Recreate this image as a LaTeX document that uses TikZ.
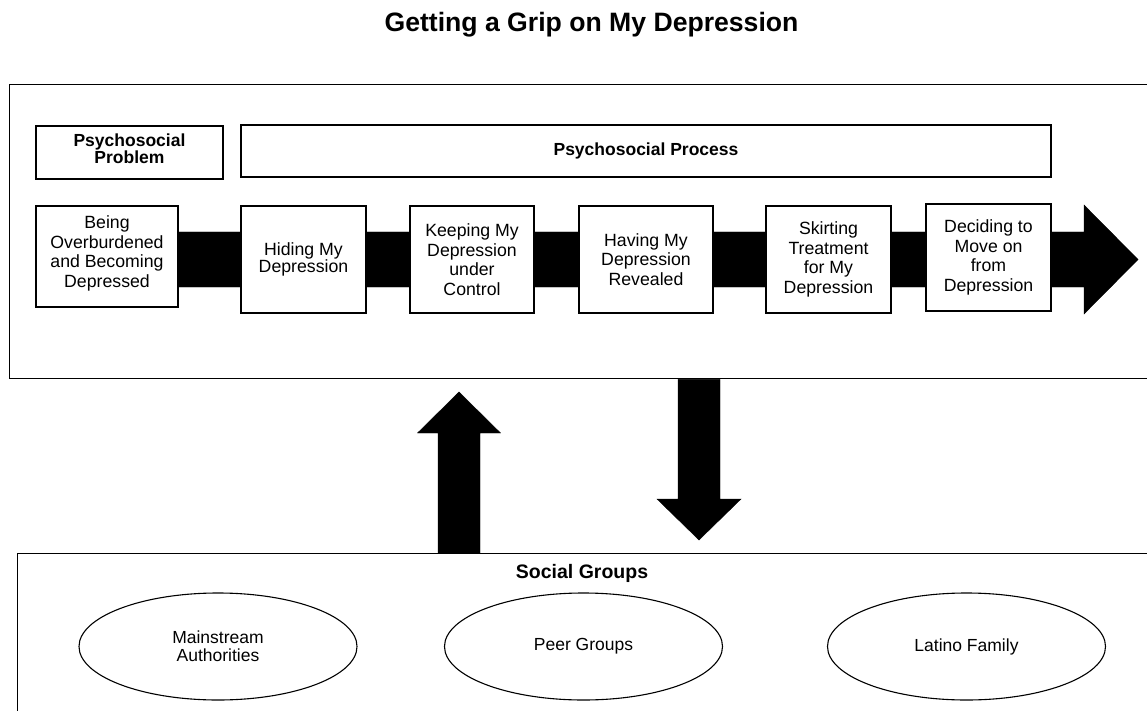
\documentclass[tikz,border=0pt]{standalone}
\usepackage{fontspec}
\setmainfont{Liberation Sans}
\usetikzlibrary{shapes.geometric,calc}
\begin{document}
\begin{tikzpicture}[x=1pt,y=-1pt,
  frame/.style={draw,line width=1.3pt,inner sep=0pt,anchor=north west},
  stagebox/.style={draw,line width=1.2pt,fill=white,inner sep=0pt,align=center,
    font=\fontsize{17.7}{19.6}\selectfont},
  headbox/.style={draw,line width=1.2pt,fill=white,inner sep=0pt,align=center,
    font=\bfseries\fontsize{17.5}{17.4}\selectfont},
  groupell/.style={draw,ellipse,line width=1.1pt,inner sep=0pt,align=center,
    minimum width=278pt,minimum height=107pt,
    font=\fontsize{17.5}{17.7}\selectfont},
  blockarrow/.style={fill=black,draw=black,line width=0.4pt}]
\useasboundingbox (0,0) rectangle (1147,711);
\clip (0,0) rectangle (1147,711);

% title
\node[anchor=base,font=\bfseries\fontsize{26.6}{30}\selectfont] (title) at (591.5,32) {Getting a Grip on My Depression};

% outer frames
\node[frame,minimum width=1160pt,minimum height=294pt] (upper) at (9,84) {};
\node[frame,minimum width=1160pt,minimum height=200pt] (lower) at (17,553) {};

% header boxes
\node[headbox,minimum width=187pt,minimum height=53pt,text depth=8pt] (problem) at (129.5,152.5) {Psychosocial\\Problem};
\node[headbox,minimum width=810pt,minimum height=52pt] (process) at (646,151) {Psychosocial Process};

% process block arrow
\coordinate (flowS) at (107,259.5);
\coordinate (flowT) at (1138,259.5);
\fill[blockarrow] ($(flowS)+(0,-27.5)$) -- ($(flowT)+(-54,-27.5)$) -- ($(flowT)+(-54,-54.5)$)
  -- (flowT) -- ($(flowT)+(-54,54.5)$) -- ($(flowT)+(-54,27.5)$) -- ($(flowS)+(0,27.5)$) -- cycle;

% stage boxes
\node[stagebox,minimum width=142pt,minimum height=101pt,text depth=10pt] (being) at (107,256.5) {Being\\Overburdened\\and Becoming\\Depressed};
\node[stagebox,minimum width=125pt,minimum height=107pt,font=\fontsize{17.7}{16.8}\selectfont] (hiding) at (303.5,259.5) {Hiding My\\Depression};
\node[stagebox,minimum width=124pt,minimum height=107pt] (keeping) at (472,259.5) {Keeping My\\Depression\\under\\Control};
\node[stagebox,minimum width=134pt,minimum height=107pt] (having) at (646,259.5) {Having My\\Depression\\Revealed};
\node[stagebox,minimum width=125pt,minimum height=107pt] (skirting) at (828.5,259.5) {Skirting\\Treatment\\for My\\Depression};
\node[stagebox,minimum width=125pt,minimum height=107pt] (deciding) at (988.5,257.5) {Deciding to\\Move on\\from\\Depression};

% up arrow (social groups -> process)
\coordinate (upT) at (459,392);
\coordinate (upS) at (upT |- lower.north);
\fill[blockarrow] ($(upS)+(-21,0)$) -- ($(upT)+(-21,41)$) -- ($(upT)+(-41.5,41)$) -- (upT)
  -- ($(upT)+(41.5,41)$) -- ($(upT)+(21,41)$) -- ($(upS)+(21,0)$) -- cycle;

% down arrow (process -> social groups)
\coordinate (dnT) at (699,540);
\coordinate (dnS) at (dnT |- upper.south);
\fill[blockarrow] ($(dnS)+(-21,0)$) -- ($(dnT)+(-21,-41)$) -- ($(dnT)+(-42,-41)$) -- (dnT)
  -- ($(dnT)+(42,-41)$) -- ($(dnT)+(21,-41)$) -- ($(dnS)+(21,0)$) -- cycle;

% social groups
\node[anchor=base,font=\bfseries\fontsize{19.5}{22}\selectfont] (social) at (582,578) {Social Groups};
\node[groupell] (mainstream) at (218,646.5) {Mainstream\\Authorities};
\node[groupell] (peer) at (583.5,646.5) {Peer Groups};
\node[groupell] (latino) at (966.5,646.5) {Latino Family};
\end{tikzpicture}
\end{document}
